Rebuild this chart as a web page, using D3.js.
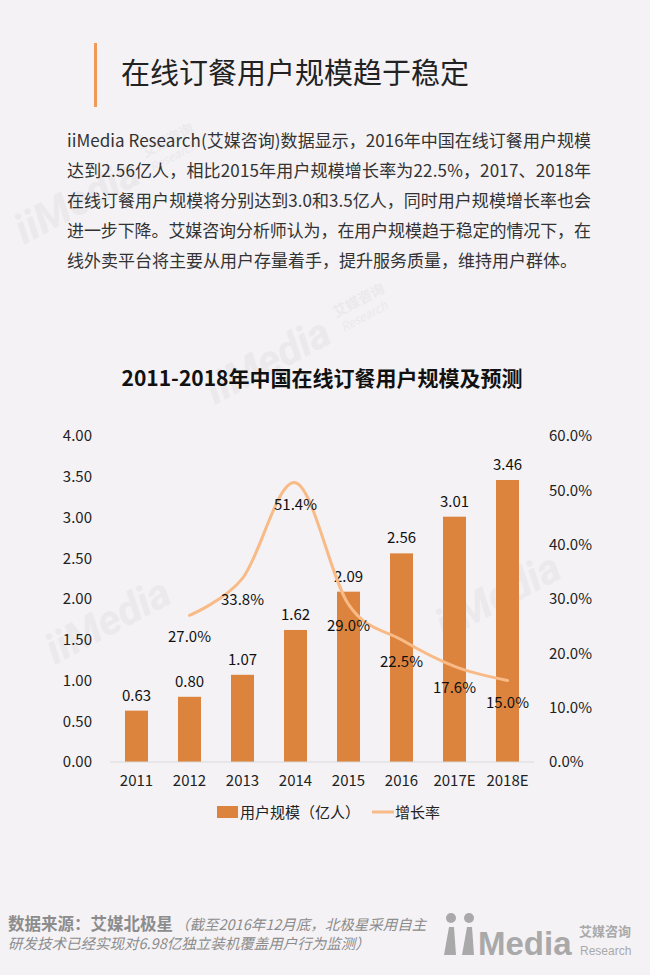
<!DOCTYPE html>
<html>
<head>
<meta charset="utf-8">
<script src="https://cdn.jsdelivr.net/npm/d3@7"></script>
<style>
  html, body { margin: 0; padding: 0; background: #f4f2f5; }
  svg { display: block; font-family: "Noto Sans CJK SC", "Noto Sans", sans-serif; }
</style>
</head>
<body>
<div id="page"></div>
<script>
// Chart data.
var years = ['2011', '2012', '2013', '2014', '2015', '2016', '2017E', '2018E'];
var users = [0.63, 0.80, 1.07, 1.62, 2.09, 2.56, 3.01, 3.46];
var growth = [null, 27.0, 33.8, 51.4, 29.0, 22.5, 17.6, 15.0];
var leftTicks = [0, 0.5, 1, 1.5, 2, 2.5, 3, 3.5, 4];
var rightTicks = [0, 10, 20, 30, 40, 50, 60];

var pageTitle = '在线订餐用户规模趋于稳定';
var paragraph = [
    'iiMedia  Research(艾媒咨询)数据显示，2016年中国在线订餐用户规模',
    '达到2.56亿人，相比2015年用户规模增长率为22.5%，2017、2018年',
    '在线订餐用户规模将分别达到3.0和3.5亿人，同时用户规模增长率也会',
    '进一步下降。艾媒咨询分析师认为，在用户规模趋于稳定的情况下，在',
    '线外卖平台将主要从用户存量着手，提升服务质量，维持用户群体。'
];
var chartTitle = '2011-2018年中国在线订餐用户规模及预测';
var legendNames = ['用户规模（亿人）', '增长率'];

var barColor = '#dc843e', lineColor = '#f8bb87';

var W = 650, H = 975;
var svg = d3.select('#page').append('svg')
    .attr('width', W)
    .attr('height', H);

svg.append('rect').attr('width', W).attr('height', H).attr('fill', '#f4f2f5');

// Faint watermarks in the background.
var marks = [[24, 245, true], [215, 405, true], [55, 665, false], [445, 640, false]];
marks.forEach(function (m) {
    var g = svg.append('g')
        .attr('transform', 'translate(' + m[0] + ',' + m[1] + ') rotate(-28)')
        .attr('fill', '#ebe9ec');
    g.append('text').attr('font-size', 42).attr('font-weight', 'bold')
        .attr('font-style', 'italic').attr('font-family', 'Roboto, sans-serif')
        .text('iiMedia');
    if (m[2]) {
        g.append('text').attr('x', 148).attr('y', -20).attr('font-size', 14)
            .attr('font-weight', 'bold').text('艾媒咨询');
        g.append('text').attr('x', 148).attr('y', -4).attr('font-size', 12)
            .attr('font-style', 'italic').text('Research');
    }
});

// Page heading with the orange bar.
svg.append('rect')
    .attr('x', 94).attr('y', 43).attr('width', 3).attr('height', 64)
    .attr('fill', '#f09a5a');
svg.append('text')
    .attr('x', 121).attr('y', 84)
    .attr('font-size', 29)
    .attr('fill', '#222')
    .text(pageTitle);

// Paragraph, justified except the last line.
svg.selectAll('.para')
    .data(paragraph)
    .enter()
    .append('text')
    .attr('class', 'para')
    .attr('x', 67)
    .attr('y', function (d, i) {return 146.5 + i * 30;})
    .attr('font-size', 17)
    .attr('fill', '#333')
    .each(function (d, i) {
        if (i < paragraph.length - 1) {
            d3.select(this).attr('textLength', 524).attr('lengthAdjust', 'spacing');
        }
    })
    .text(function (d) {return d;});

// Chart title.
svg.append('text')
    .attr('x', 322).attr('y', 386)
    .attr('text-anchor', 'middle')
    .attr('font-size', 21)
    .attr('font-weight', 'bold')
    .attr('fill', '#111')
    .text(chartTitle);

// Scales.
var x = d3.scaleBand().domain(years).range([110, 534])
    .paddingInner(0.566).paddingOuter(0.283);
var yL = d3.scaleLinear().domain([0, 4]).range([762, 436]);
var yR = d3.scaleLinear().domain([0, 60]).range([762, 436]);

// Axes.
var axisFont = 15;
var leftAxis = svg.append('g')
    .attr('transform', 'translate(110,0)')
    .call(d3.axisLeft(yL).tickValues(leftTicks).tickFormat(d3.format('.2f'))
        .tickSize(0).tickPadding(18));
var rightAxis = svg.append('g')
    .attr('transform', 'translate(534,0)')
    .call(d3.axisRight(yR).tickValues(rightTicks)
        .tickFormat(function (d) {return d3.format('.1f')(d) + '%';})
        .tickSize(0).tickPadding(15));
var bottomAxis = svg.append('g')
    .attr('transform', 'translate(0,762)')
    .call(d3.axisBottom(x).tickSize(0).tickPadding(13));
[leftAxis, rightAxis, bottomAxis].forEach(function (a) {
    a.select('.domain').remove();
    a.selectAll('text')
        .attr('font-size', axisFont)
        .attr('font-family', '"Noto Sans CJK SC", sans-serif')
        .attr('fill', '#222');
});

// Bars.
svg.selectAll('.bar')
    .data(users)
    .enter()
    .append('rect')
    .attr('class', 'bar')
    .attr('x', function (d, i) {return x(years[i]);})
    .attr('y', function (d) {return yL(d);})
    .attr('width', x.bandwidth())
    .attr('height', function (d) {return yL(0) - yL(d);})
    .attr('fill', barColor);

// Base line.
svg.append('line')
    .attr('x1', 110).attr('x2', 534)
    .attr('y1', yL(0)).attr('y2', yL(0))
    .attr('stroke', '#d9d9d9').attr('stroke-width', 1);

// Bar labels.
svg.selectAll('.barLabel')
    .data(users)
    .enter()
    .append('text')
    .attr('class', 'barLabel')
    .attr('x', function (d, i) {return x(years[i]) + x.bandwidth() / 2;})
    .attr('y', function (d) {return yL(d) - 10;})
    .attr('text-anchor', 'middle')
    .attr('font-size', axisFont)
    .attr('fill', '#111')
    .text(function (d) {return d3.format('.2f')(d);});

// Growth line (smoothed).
var pts = growth.map(function (g, i) {return {g: g, year: years[i]};})
    .filter(function (d) {return d.g !== null;});
var line = d3.line()
    .x(function (d) {return x(d.year) + x.bandwidth() / 2;})
    .y(function (d) {return yR(d.g);})
    .curve(d3.curveCatmullRom.alpha(0));
svg.append('path')
    .datum(pts)
    .attr('d', line)
    .attr('fill', 'none')
    .attr('stroke', lineColor)
    .attr('stroke-width', 3)
    .attr('stroke-linecap', 'round');

// Line labels, below each point.
svg.selectAll('.lineLabel')
    .data(pts)
    .enter()
    .append('text')
    .attr('class', 'lineLabel')
    .attr('x', function (d) {return x(d.year) + x.bandwidth() / 2;})
    .attr('y', function (d) {return yR(d.g) + 27;})
    .attr('text-anchor', 'middle')
    .attr('font-size', axisFont)
    .attr('fill', '#111')
    .text(function (d) {return d3.format('.1f')(d.g) + '%';});

// Legend.
var legend = svg.append('g');
legend.append('rect')
    .attr('x', 217).attr('y', 806).attr('width', 21).attr('height', 12)
    .attr('fill', barColor);
legend.append('text')
    .attr('x', 240).attr('y', 818)
    .attr('font-size', axisFont).attr('fill', '#222')
    .text(legendNames[0]);
legend.append('line')
    .attr('x1', 372).attr('x2', 394).attr('y1', 812).attr('y2', 812)
    .attr('stroke', lineColor).attr('stroke-width', 3);
legend.append('text')
    .attr('x', 395).attr('y', 818)
    .attr('font-size', axisFont).attr('fill', '#222')
    .text(legendNames[1]);

// Footer source.
var foot = svg.append('text')
    .attr('x', 8).attr('y', 930)
    .attr('fill', '#8c8c8c');
foot.append('tspan')
    .attr('font-size', 16.5).attr('font-weight', 'bold')
    .text('数据来源：艾媒北极星');
foot.append('tspan')
    .attr('font-size', 14.5).attr('font-style', 'italic').attr('dx', 2)
    .text('（截至2016年12月底，北极星采用自主');
svg.append('text')
    .attr('x', 8).attr('y', 949)
    .attr('font-size', 14.5).attr('font-style', 'italic')
    .attr('fill', '#8c8c8c')
    .text('研发技术已经实现对6.98亿独立装机覆盖用户行为监测）');

// Logo bottom right.
var logo = svg.append('g').attr('fill', '#a9a9a9');
logo.append('circle').attr('cx', 451).attr('cy', 918).attr('r', 5);
logo.append('circle').attr('cx', 469).attr('cy', 918).attr('r', 5);
logo.append('path').attr('d', 'M449,927 L454,927 L456,955 L444,955 Z');
logo.append('path').attr('d', 'M467,927 L472,927 L474,955 L462,955 Z');
logo.append('text')
    .attr('x', 478).attr('y', 955)
    .attr('font-size', 33).attr('font-weight', 'bold')
    .attr('font-family', '"Liberation Sans", sans-serif')
    .text('Media');
logo.append('text')
    .attr('x', 579).attr('y', 936)
    .attr('font-size', 13).attr('font-weight', 'bold')
    .text('艾媒咨询');
logo.append('text')
    .attr('x', 580).attr('y', 955)
    .attr('font-size', 12)
    .attr('font-family', '"Liberation Sans Narrow", sans-serif')
    .text('Research');
</script>
</body>
</html>
